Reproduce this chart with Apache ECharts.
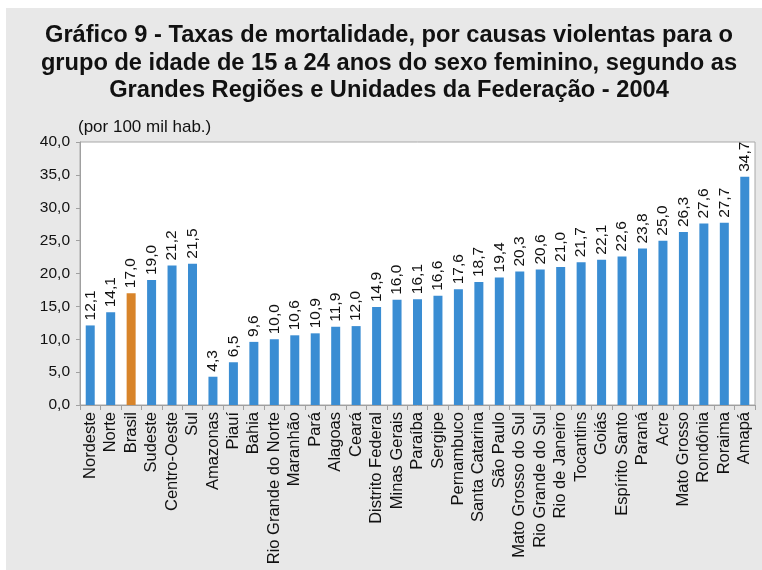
<!DOCTYPE html>
<html>
<head>
<meta charset="utf-8">
<script src="https://cdn.jsdelivr.net/npm/echarts@6/dist/echarts.min.js"></script>
<style>
  html, body { margin: 0; padding: 0; background: #fff; }
  #chart { width: 762px; height: 570px; }
</style>
</head>
<body>
<div id="chart"></div>
<script>
// dados
var categorias = ['Nordeste', 'Norte', 'Brasil', 'Sudeste', 'Centro-Oeste', 'Sul',
  'Amazonas', 'Piauí', 'Bahia', 'Rio Grande do Norte', 'Maranhão', 'Pará', 'Alagoas',
  'Ceará', 'Distrito Federal', 'Minas Gerais', 'Paraíba', 'Sergipe', 'Pernambuco',
  'Santa Catarina', 'São Paulo', 'Mato Grosso do Sul', 'Rio Grande do Sul',
  'Rio de Janeiro', 'Tocantins', 'Goiás', 'Espírito Santo', 'Paraná', 'Acre',
  'Mato Grosso', 'Rondônia', 'Roraima', 'Amapá'];
var taxas = [12.1, 14.1, 17.0, 19.0, 21.2, 21.5,
  4.3, 6.5, 9.6, 10.0, 10.6, 10.9, 11.9,
  12.0, 14.9, 16.0, 16.1, 16.6, 17.6,
  18.7, 19.4, 20.3, 20.6,
  21.0, 21.7, 22.1, 22.6, 23.8, 25.0,
  26.3, 27.6, 27.7, 34.7];
var destaque = 'Brasil';
var titulo = [
  'Gráfico 9 - Taxas de mortalidade, por causas violentas para o',
  'grupo de idade de 15 a 24 anos do sexo feminino, segundo as',
  'Grandes Regiões e Unidades da Federação - 2004'
];

var azul = '#3a8dd3';
var laranja = '#d8842a';
var fonte = '"Liberation Sans", Arial, sans-serif';

function virgula(v) {
  return v.toFixed(1).replace('.', ',');
}

// título com fonte "estreitada" (a original é condensada)
var tituloFonte = 'bold 23px "Liberation Sans", Arial, sans-serif';
var ctx = document.createElement('canvas').getContext('2d');
ctx.font = tituloFonte;
var escala = 688 / ctx.measureText(titulo[0]).width;

var myChart = echarts.init(document.getElementById('chart'));
var option = {
  backgroundColor: '#ffffff',
  animation: false,
  graphic: [{
    type: 'rect',
    z: -10,
    shape: {x: 6, y: 8, width: 756, height: 562},
    style: {fill: '#e8e8e8'}
  }].concat(titulo.map(function (t, i) {
    return {
      type: 'text',
      x: 389,
      y: 36 + i * 27.5,
      scaleX: escala,
      style: {
        text: t,
        font: tituloFonte,
        fill: '#111',
        align: 'center',
        verticalAlign: 'middle'
      }
    };
  })),
  grid: {
    left: 80,
    right: 7,
    top: 142,
    bottom: 165,
    show: true,
    backgroundColor: '#ffffff',
    borderColor: '#a8a8a8',
    borderWidth: 1
  },
  xAxis: {
    type: 'category',
    data: categorias,
    axisLine: {lineStyle: {color: '#a0a0a0'}},
    axisTick: {show: true, alignWithLabel: false, length: 5, lineStyle: {color: '#a0a0a0'}},
    axisLabel: {
      rotate: 90,
      interval: 0,
      margin: 7,
      color: '#111',
      fontFamily: fonte,
      fontSize: 16.5
    }
  },
  yAxis: {
    type: 'value',
    min: 0,
    max: 40,
    interval: 5,
    name: '(por 100 mil hab.)',
    nameLocation: 'end',
    nameGap: 6,
    nameTextStyle: {
      color: '#111',
      fontFamily: fonte,
      fontSize: 17,
      align: 'left',
      padding: [0, 0, 0, -2]
    },
    splitLine: {show: false},
    axisLine: {show: true, lineStyle: {color: '#a0a0a0'}},
    axisTick: {show: true, length: 4, lineStyle: {color: '#a0a0a0'}},
    axisLabel: {
      formatter: function (v) { return virgula(v); },
      color: '#111',
      fontFamily: fonte,
      fontSize: 15.5,
      margin: 10
    }
  },
  series: [{
    type: 'bar',
    barWidth: '44%',
    data: taxas.map(function (v, i) {
      return {
        value: v,
        itemStyle: {color: categorias[i] === destaque ? laranja : azul}
      };
    }),
    label: {
      show: true,
      position: 'top',
      rotate: 90,
      align: 'left',
      verticalAlign: 'middle',
      distance: 5,
      color: '#111',
      fontFamily: fonte,
      fontSize: 15.5,
      formatter: function (p) { return virgula(p.value); }
    }
  }]
};
myChart.setOption(option);
</script>
</body>
</html>
